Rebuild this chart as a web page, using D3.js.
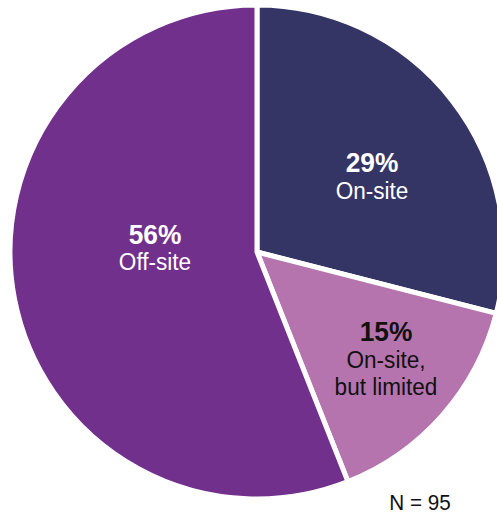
<!DOCTYPE html>
<html>
<head>
<meta charset="utf-8">
<script src="https://cdn.jsdelivr.net/npm/d3@7"></script>
<style>
  html, body { margin: 0; padding: 0; background: #fff; }
  svg text { font-family: "Liberation Sans Narrow", "Arial Narrow", "Liberation Sans", sans-serif; }
</style>
</head>
<body>
<svg id="chart" width="497" height="514"></svg>
<script>
// Where the respondents' facilities are located
const categories = ["On-site", "On-site, but limited", "Off-site"];
const values = [29, 15, 56];
const labelLines = [["On-site"], ["On-site,", "but limited"], ["Off-site"]];
const colors = ["#343565", "#b574ae", "#72308d"];
const textColors = ["#ffffff", "#111111", "#ffffff"];
const sampleNote = "N = 95";

const svg = d3.select("#chart");
const cx = 257, cy = 252, radius = 247;

const pie = d3.pie().sort(null).value(d => d.value);
const arcs = pie(categories.map((c, i) => ({ name: c, value: values[i], i })));
const arc = d3.arc().innerRadius(0).outerRadius(radius);

const g = svg.append("g").attr("transform", `translate(${cx},${cy})`);

g.selectAll("path")
  .data(arcs)
  .join("path")
  .attr("d", arc)
  .attr("fill", d => colors[d.data.i])
  .attr("stroke", "#fff")
  .attr("stroke-width", 5)
  .attr("stroke-linejoin", "miter");

// Percentage + category labels placed inside each slice (slightly condensed type)
const labelPos = [[115, -80, 27], [129, 89, 27], [-102, -8, 26]];

arcs.forEach(a => {
  const i = a.data.i;
  const [x, y, gap] = labelPos[i];
  const t = g.append("g")
    .attr("transform", `translate(${x},${y}) scale(0.94,1)`)
    .append("text")
    .attr("text-anchor", "middle")
    .attr("fill", textColors[i]);
  t.append("tspan")
    .attr("x", 0).attr("y", 0)
    .attr("font-size", 28).attr("font-weight", "bold")
    .text(values[i] + "%");
  labelLines[i].forEach((line, j) => {
    t.append("tspan")
      .attr("x", 0).attr("y", gap * (j + 1))
      .attr("font-size", 24)
      .text(line);
  });
});

svg.append("g")
  .attr("transform", "translate(420,510) scale(0.94,1)")
  .append("text")
  .attr("text-anchor", "middle")
  .attr("font-size", 22)
  .attr("fill", "#111")
  .text(sampleNote);
</script>
</body>
</html>
